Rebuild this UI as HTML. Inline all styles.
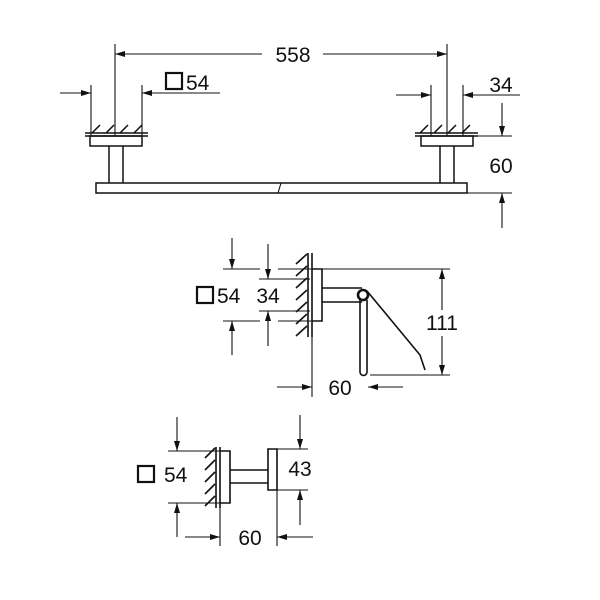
<!DOCTYPE html>
<html><head><style>body{margin:0;background:#fff}svg{display:block}text{font-family:"Liberation Sans",sans-serif;font-size:21px;fill:#111}</style></head><body>
<svg width="600" height="600" viewBox="0 0 600 600" xmlns="http://www.w3.org/2000/svg">
<defs><marker id="a" viewBox="0 0 10 6" refX="10" refY="3" markerWidth="11" markerHeight="6" markerUnits="userSpaceOnUse" orient="auto"><path d="M0,0L10,3L0,6z" fill="#111"/></marker></defs>
<g stroke="#111" stroke-width="1.1" fill="none">
<line x1="115" y1="44" x2="115" y2="136"/><line x1="447" y1="44" x2="447" y2="136"/>
<line x1="262" y1="54" x2="115" y2="54" marker-end="url(#a)"/><line x1="323" y1="54" x2="447" y2="54" marker-end="url(#a)"/>
<line x1="91" y1="85" x2="91" y2="136"/><line x1="142" y1="85" x2="142" y2="136"/>
<line x1="60" y1="93" x2="91" y2="93" marker-end="url(#a)"/><line x1="220" y1="93" x2="142" y2="93" marker-end="url(#a)"/>
<line x1="431" y1="85" x2="431" y2="136"/><line x1="463" y1="85" x2="463" y2="136"/>
<line x1="396" y1="95" x2="431" y2="95" marker-end="url(#a)"/><line x1="520" y1="95" x2="463" y2="95" marker-end="url(#a)"/>
<line x1="502" y1="103" x2="502" y2="136" marker-end="url(#a)"/><line x1="502" y1="228" x2="502" y2="193" marker-end="url(#a)"/>
<line x1="473" y1="136" x2="512" y2="136"/><line x1="467" y1="193" x2="512" y2="193"/>
<g stroke-width="1.5">
<line x1="85" y1="133" x2="148" y2="133"/><line x1="85" y1="136" x2="148" y2="136"/>
<line x1="415" y1="133" x2="478" y2="133"/><line x1="415" y1="136" x2="478" y2="136"/>
<path d="M90,136h52v10h-52z M109,146v37 M123,146v37 M421,136h52v10h-52z M440,146v37 M454,146v37 M96,183h371v10h-371z"/>
<path d="M92,133l8,-8 M106,133l8,-8 M120,133l8,-8 M134,133l8,-8 M420,133l8,-8 M434,133l8,-8 M448,133l8,-8 M462,133l8,-8"/>
</g>
<path d="M278,193l3,-10"/>
<line x1="232" y1="238" x2="232" y2="269" marker-end="url(#a)"/><line x1="232" y1="355" x2="232" y2="321" marker-end="url(#a)"/>
<line x1="223" y1="269" x2="260" y2="269"/><line x1="223" y1="321" x2="260" y2="321"/>
<line x1="268" y1="244" x2="268" y2="279" marker-end="url(#a)"/><line x1="268" y1="346" x2="268" y2="311" marker-end="url(#a)"/>
<line x1="259" y1="279" x2="310" y2="279"/><line x1="259" y1="311" x2="310" y2="311"/>
<line x1="278" y1="269" x2="312" y2="269"/><line x1="278" y1="321" x2="312" y2="321"/>
<line x1="320" y1="269" x2="450" y2="269"/><line x1="370" y1="375" x2="450" y2="375"/>
<line x1="442" y1="310" x2="442" y2="269" marker-end="url(#a)"/><line x1="442" y1="336" x2="442" y2="375" marker-end="url(#a)"/>
<line x1="312" y1="337" x2="312" y2="397"/>
<line x1="277" y1="387" x2="312" y2="387" marker-end="url(#a)"/><line x1="403" y1="387" x2="368" y2="387" marker-end="url(#a)"/>
<g stroke-width="1.6">
<line x1="308" y1="253" x2="308" y2="337"/><line x1="312" y1="253" x2="312" y2="337"/>
<path d="M296,264l11,-10 M296,276l11,-10 M296,288l11,-10 M296,300l11,-10 M296,312l11,-10 M296,324l11,-10 M296,336l11,-10"/>
<path d="M312,269h10v52h-10 M322,288h40 M322,302h40"/>
<path d="M360,300v72a3.5,3.5 0 0 0 7,0v-72"/>
<path d="M367,291L420,355L425,370"/>
</g>
<circle cx="363" cy="295" r="5" stroke-width="2.6"/>
<line x1="177" y1="417" x2="177" y2="451" marker-end="url(#a)"/><line x1="177" y1="537" x2="177" y2="503" marker-end="url(#a)"/>
<line x1="168" y1="451" x2="220" y2="451"/><line x1="168" y1="503" x2="220" y2="503"/>
<line x1="300" y1="415" x2="300" y2="449" marker-end="url(#a)"/><line x1="300" y1="525" x2="300" y2="490" marker-end="url(#a)"/>
<line x1="277" y1="449" x2="308" y2="449"/><line x1="277" y1="490" x2="308" y2="490"/>
<line x1="220" y1="508" x2="220" y2="546"/><line x1="277" y1="490" x2="277" y2="546"/>
<line x1="185" y1="537" x2="220" y2="537" marker-end="url(#a)"/><line x1="313" y1="537" x2="277" y2="537" marker-end="url(#a)"/>
<g stroke-width="1.6">
<line x1="216" y1="447" x2="216" y2="508"/><line x1="220" y1="447" x2="220" y2="508"/>
<path d="M205,458l10,-10 M205,470l10,-10 M205,482l10,-10 M205,494l10,-10 M205,506l10,-10"/>
<path d="M220,451h10v52h-10 M230,470h38 M230,483h38 M268,449h9v41h-9z"/>
</g>
<rect x="166" y="73" width="16" height="16" stroke-width="2.2"/>
<rect x="197" y="287" width="16" height="16" stroke-width="2.2"/>
<rect x="138" y="466" width="16" height="16" stroke-width="2.2"/>
</g>
<text x="293" y="62" text-anchor="middle">558</text>
<text x="186" y="90">54</text>
<text x="501" y="92" text-anchor="middle">34</text>
<text x="501" y="173" text-anchor="middle">60</text>
<text x="217" y="303">54</text>
<text x="268" y="303" text-anchor="middle">34</text>
<text x="442" y="330" text-anchor="middle">111</text>
<text x="340" y="395" text-anchor="middle">60</text>
<text x="164" y="482">54</text>
<text x="300" y="476" text-anchor="middle">43</text>
<text x="250" y="545" text-anchor="middle">60</text>
</svg>
</body></html>
